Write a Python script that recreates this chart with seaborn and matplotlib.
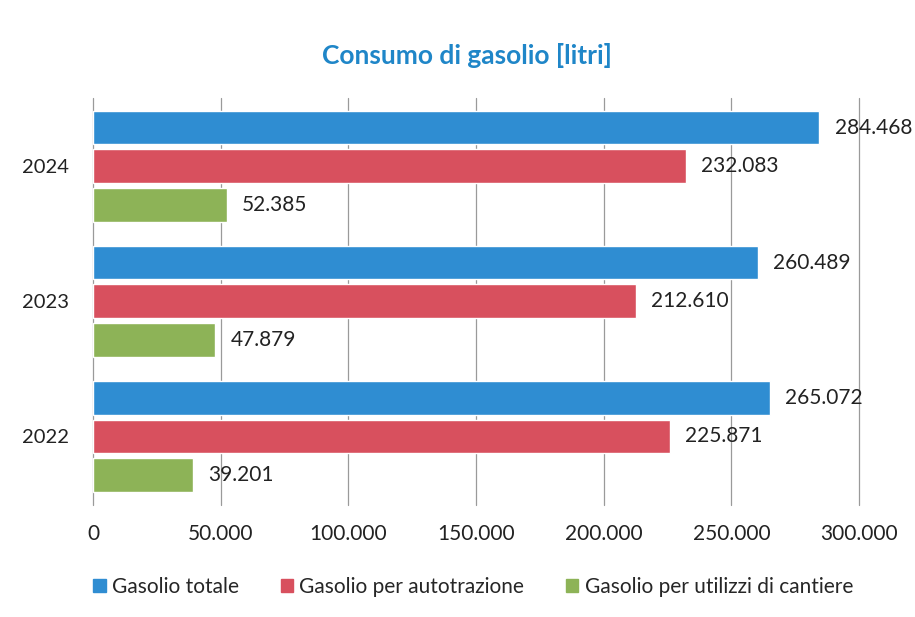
import matplotlib
matplotlib.use("Agg")
import matplotlib.pyplot as plt
import seaborn as sns
import pandas as pd

# data
years = ["2024", "2023", "2022"]
series = ["Gasolio totale", "Gasolio per autotrazione", "Gasolio per utilizzi di cantiere"]
totale = [284468, 260489, 265072]
autotrazione = [232083, 212610, 225871]
cantiere = [52385, 47879, 39201]
colors = ["#2F8DD2", "#D8505E", "#8DB357"]
xticks = [0, 50000, 100000, 150000, 200000, 250000, 300000]

rows = []
for i, y in enumerate(years):
    rows.append((y, series[0], totale[i]))
    rows.append((y, series[1], autotrazione[i]))
    rows.append((y, series[2], cantiere[i]))
df = pd.DataFrame(rows, columns=["anno", "serie", "litri"])

sns.set_style("white")
plt.rcParams['font.family'] = ['Lato', 'DejaVu Sans']

def it_fmt(v):
    return f"{int(v):,}".replace(",", ".")

fig = plt.figure(figsize=(9.15, 6.17), dpi=100)
ax = fig.add_axes([0.1016, 0.1815, 0.8372, 0.66])
sns.barplot(data=df, y="anno", x="litri", hue="serie", order=years, hue_order=series,
            palette=colors, saturation=1, orient="h", width=0.86, gap=0.13, ax=ax, legend=False)

for cont in ax.containers:
    ax.bar_label(cont, labels=[it_fmt(b.get_width()) for b in cont], padding=11, fontsize=15, color="#222222")

ax.set_xlim(0, 300000)
ax.set_ylim(2.508, -0.507)
ax.set_xticks(xticks)
ax.set_xticklabels([it_fmt(t) for t in xticks], fontsize=15, color="#222222")
ax.tick_params(axis="y", labelsize=14.5, labelcolor="#222222", length=0, pad=17)
ax.tick_params(axis="x", length=0, pad=14)
ax.grid(axis="x", color="#9a9a9a", linewidth=0.9)
for gl in ax.get_xgridlines():
    gl.set_clip_on(False)
ax.set_axisbelow(True)
for s in ax.spines.values():
    s.set_visible(False)
ax.set_xlabel("")
ax.set_ylabel("")

fig.text(0.51, 0.91, "Consumo di gasolio [litri]", ha="center", va="center",
         fontsize=19, fontweight="bold", color="#1F86C8")

handles = [plt.Rectangle((0, 0), 1, 1, color=c) for c in colors]
fig.legend(handles, series, loc="center", bbox_to_anchor=(0.517, 0.049), ncol=3, frameon=False,
           fontsize=15, handlelength=0.6, handleheight=0.6, handletextpad=0.3, columnspacing=2.0)

fig.savefig("out.png", dpi=100)
